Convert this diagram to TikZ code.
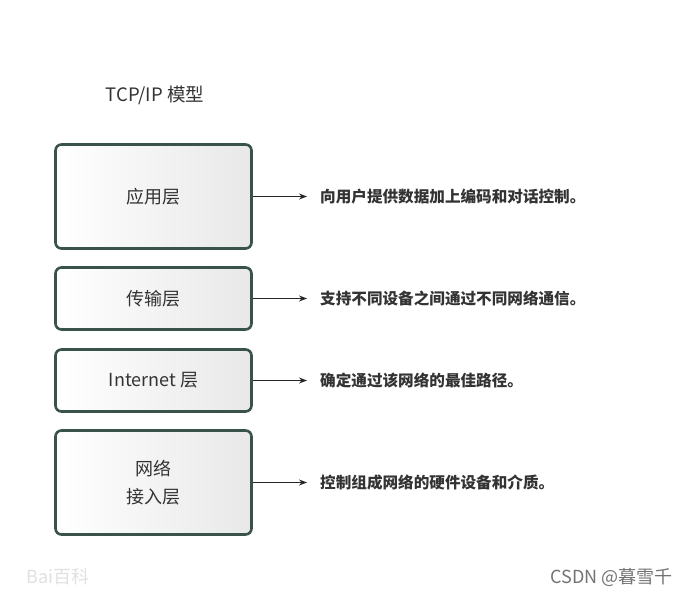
\documentclass[tikz,border=0pt]{standalone}
\usepackage{fontspec}
\setmainfont{Noto Sans CJK SC}
\usetikzlibrary{arrows.meta}
\definecolor{boxborder}{HTML}{3A524C}
\definecolor{txt}{HTML}{333333}
\tikzset{
  layer/.style={draw=boxborder, line width=2.6pt, rounded corners=6pt,
    left color=white, right color=black!9, minimum width=196pt,
    text=txt, font=\fontsize{18}{28}\selectfont, align=center, inner sep=0pt},
  desc/.style={anchor=west, text=txt, font=\fontsize{15.6}{18}\selectfont\bfseries, inner sep=0pt},
  link/.style={-{Stealth[length=8pt,width=6pt]}, line width=1.3pt, black!85}
}
\begin{document}
\begin{tikzpicture}[x=1pt,y=-1pt]
\useasboundingbox (0,0) rectangle (689,598);
\node[text=txt, font=\fontsize{18.5}{22}\selectfont] (title) at (155,95) {TCP/IP 模型};
\node[layer, minimum height=104pt] (app) at (153.5,196.5) {应用层};
\node[layer, minimum height=62pt] (trans) at (153.5,298.5) {传输层};
\node[layer, minimum height=62pt] (inet) at (153.5,380.5) {Internet 层};
\node[layer, minimum height=104pt] (net) at (153.5,482.5) {网络\\接入层};
\coordinate (a1) at (307,196.5);
\coordinate (a2) at (307,298.5);
\coordinate (a3) at (307,380.5);
\coordinate (a4) at (307,482.5);
\draw[link] (app.east) -- (a1);
\draw[link] (trans.east) -- (a2);
\draw[link] (inet.east) -- (a3);
\draw[link] (net.east) -- (a4);
\node[desc] (d1) at (320,196.5) {向用户提供数据加上编码和对话控制。};
\node[desc] (d2) at (320,298.5) {支持不同设备之间通过不同网络通信。};
\node[desc] (d3) at (320,380.5) {确定通过该网络的最佳路径。};
\node[desc] (d4) at (320,482.5) {控制组成网络的硬件设备和介质。};
\node[anchor=west, text=black!12, font=\fontsize{18}{20}\selectfont, inner sep=0pt] (baidu) at (26,577) {Bai百科};
\node[anchor=east, text=black!55, font=\fontsize{18}{20}\selectfont, inner sep=0pt] (csdn) at (673,577) {CSDN @暮雪千};
\end{tikzpicture}
\end{document}
